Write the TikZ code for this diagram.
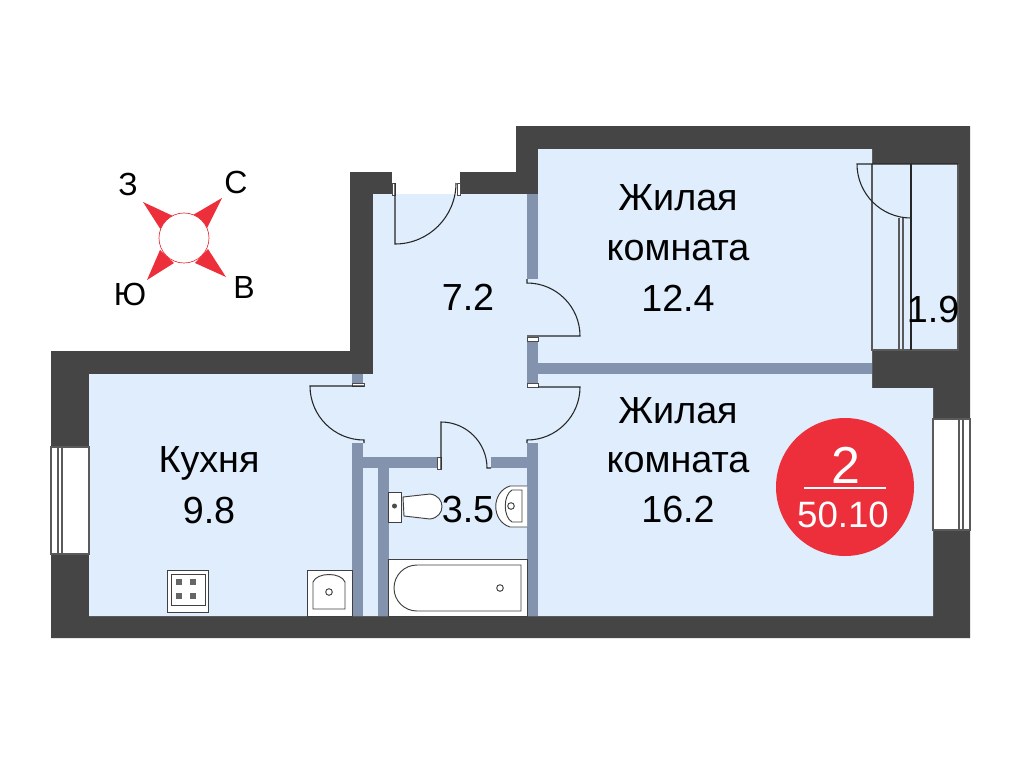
\documentclass[tikz,border=0pt]{standalone}
\usepackage{fontspec}
\setmainfont{Liberation Sans}
\definecolor{wallDark}{HTML}{454545}
\definecolor{wallInner}{HTML}{8393AE}
\definecolor{floorBlue}{HTML}{DFEDFC}
\definecolor{markRed}{HTML}{EC2F3A}
\definecolor{lineGray}{HTML}{5A5A5A}
\tikzset{
    roomtext/.style={font=\fontsize{28.3}{30}\selectfont, inner sep=0pt, anchor=base},
    sidetext/.style={font=\fontsize{24}{26}\selectfont, inner sep=0pt, anchor=base},
    doorline/.style={draw=black!85, line width=0.8pt},
    jamb/.style={draw=black!70, fill=white, line width=0.5pt},
    fixture/.style={draw=black!75, fill=white, line width=0.7pt},
    glassline/.style={draw=lineGray, line width=0.8pt}
}
\begin{document}
\begin{tikzpicture}[x=0.75pt, y=-0.75pt]
    \useasboundingbox (0, 0) rectangle (1024, 768);
    \fill[white] (0, 0) rectangle (1024, 768);

    % outer walls and floor
    \fill[wallDark] (51, 351) -- (350, 351) -- (350, 172) -- (516, 172) -- (516, 126) -- (970, 126) -- (970, 638) -- (51, 638) -- cycle;
    \fill[white] (392, 170) rectangle (460, 194);
    \fill[floorBlue] (89, 374) -- (373, 374) -- (373, 194) -- (538, 194) -- (538, 149) -- (872, 149) -- (872, 164) -- (958, 164) -- (958, 350) -- (872, 350) -- (872, 388) -- (933, 388) -- (933, 616) -- (89, 616) -- cycle;

    % inner walls
    \fill[wallInner] (527, 194) rectangle (538, 279);
    \fill[wallInner] (527, 341) rectangle (538, 383);
    \fill[wallInner] (538, 363) rectangle (872, 374);
    \fill[wallInner] (352, 374) rectangle (363, 383);
    \fill[wallInner] (352, 443) rectangle (363, 616);
    \fill[wallInner] (363, 457) rectangle (437, 468);
    \fill[wallInner] (491, 457) rectangle (527, 468);
    \fill[wallInner] (378, 468) rectangle (389, 616);
    \fill[wallInner] (527, 443) rectangle (538, 616);

    % doors
    \draw[jamb] (392, 183) rectangle (395, 195);
    \draw[jamb] (457, 183) rectangle (460, 195);
    \draw[doorline] (395, 183) -- (395, 244) arc[start angle=90, end angle=0, radius=61];
    \draw[doorline] (527, 279) -- (527, 283) arc[start angle=-90, end angle=0, radius=53] -- (527, 336);
    \draw[jamb] (527, 337) rectangle (538, 341);
    \draw[jamb] (352, 383) rectangle (364, 386);
    \draw[doorline] (364, 386) -- (310, 386) arc[start angle=180, end angle=90, radius=54] -- (364, 443);
    \draw[jamb] (527, 383) rectangle (538, 387);
    \draw[doorline] (538, 387) -- (580, 387) arc[start angle=0, end angle=90, radius=53] -- (527, 443);
    \draw[jamb] (437, 457) rectangle (441, 469);
    \draw[doorline] (441, 469) -- (441, 422) arc[start angle=-90, end angle=0, radius=46] -- (491, 468);

    % windows
    \draw[glassline, fill=white] (51, 447) rectangle (89, 554);
    \draw[glassline] (58, 447) -- (58, 554);
    \draw[glassline] (62, 447) -- (62, 554);
    \draw[glassline, fill=white] (933, 419) rectangle (970, 530);
    \draw[glassline] (959, 419) -- (959, 530);
    \draw[glassline] (963, 419) -- (963, 530);

    % balcony
    \draw[glassline] (958, 164) -- (958, 350) -- (872, 350) -- (872, 164);
    \draw[glassline] (899, 218) -- (899, 350);
    \draw[glassline] (903, 218) -- (903, 350);
    \draw[doorline] (958, 164) -- (857, 164) arc[start angle=180, end angle=90, radius=54];
    \draw[doorline] (911, 164) -- (911, 350);

    % kitchen fixtures
    \draw[fixture] (167, 570) rectangle (208, 612);
    \draw[fixture] (171, 574) rectangle (205, 605);
    \foreach \i in {179, 193} {
        \foreach \j in {582, 596} {
            \fill[black!60] (\i-3, \j-3) rectangle (\i+3, \j+3);
        };
    };
    \draw[fixture] (307, 570) rectangle (352, 616);
    \draw[fixture] (313, 609) -- (345, 609) -- (345, 582) .. controls (341, 572) and (317, 572) .. (313, 582) -- cycle;
    \draw[fixture] (329, 592) circle[radius=3.3];

    % bathroom fixtures
    \draw[fixture] (388, 492) rectangle (401, 522);
    \fill[black!70] (394.5, 506) circle[radius=2.5];
    \draw[fixture] (403, 497) -- (430, 494) .. controls (446, 496) and (446, 517) .. (430, 519) -- (404, 516) -- cycle;
    \draw[fixture] (527, 486) -- (510, 486) .. controls (491, 492) and (491, 521) .. (510, 527) -- (527, 527);
    \draw[fixture] (522, 490) -- (512, 490) .. controls (503, 495) and (503, 517) .. (512, 522) -- (522, 522) -- cycle;
    \draw[fixture] (511, 506) circle[radius=3.3];
    \draw[fixture] (388, 559) rectangle (527, 616);
    \draw[fixture] (521, 565) -- (417, 565) arc[start angle=-90, end angle=-270, radius=23] -- (521, 611) -- cycle;
    \draw[fixture] (500, 588) circle[radius=3.3];

    % compass
    \fill[markRed] (143, 202) -- (173, 216) -- (161, 230) -- cycle;
    \fill[markRed] (222, 198) -- (193, 215) -- (207, 228) -- cycle;
    \fill[markRed] (226, 277) -- (208, 249) -- (195, 263) -- cycle;
    \fill[markRed] (147, 280) -- (160, 250) -- (174, 263) -- cycle;
    \draw[markRed, fill=white, line width=0.5pt] (184, 238) circle[radius=25];
    \node[sidetext] (west) at (128, 195) {З};
    \node[sidetext] (north) at (236, 193) {С};
    \node[sidetext] (south) at (130, 305) {Ю};
    \node[sidetext] (east) at (244, 298) {В};

    % room labels
    \node[roomtext] (roomA) at (678, 210) {Жилая};
    \node[roomtext] (roomAb) at (678, 260) {комната};
    \node[roomtext] (roomAc) at (678, 311) {12.4};
    \node[roomtext] (roomB) at (678, 423) {Жилая};
    \node[roomtext] (roomBb) at (678, 472) {комната};
    \node[roomtext] (roomBc) at (678, 522) {16.2};
    \node[roomtext] (kitchen) at (209, 472) {Кухня};
    \node[roomtext] (kitchenb) at (209, 523) {9.8};
    \node[roomtext] (hall) at (468, 310) {7.2};
    \node[roomtext] (bath) at (468, 522) {3.5};
    \node[roomtext] (balcony) at (933, 322) {1.9};

    % flat badge
    \fill[markRed] (845, 487) circle[radius=69];
    \node[text=white, inner sep=0pt, anchor=base, font=\fontsize{39}{42}\selectfont] (rooms) at (846, 483) {2};
    \draw[white, line width=1.3pt] (804, 488) -- (886, 488);
    \node[text=white, inner sep=0pt, anchor=base, font=\fontsize{27.5}{30}\selectfont] (area) at (843, 527) {50.10};
\end{tikzpicture}
\end{document}
